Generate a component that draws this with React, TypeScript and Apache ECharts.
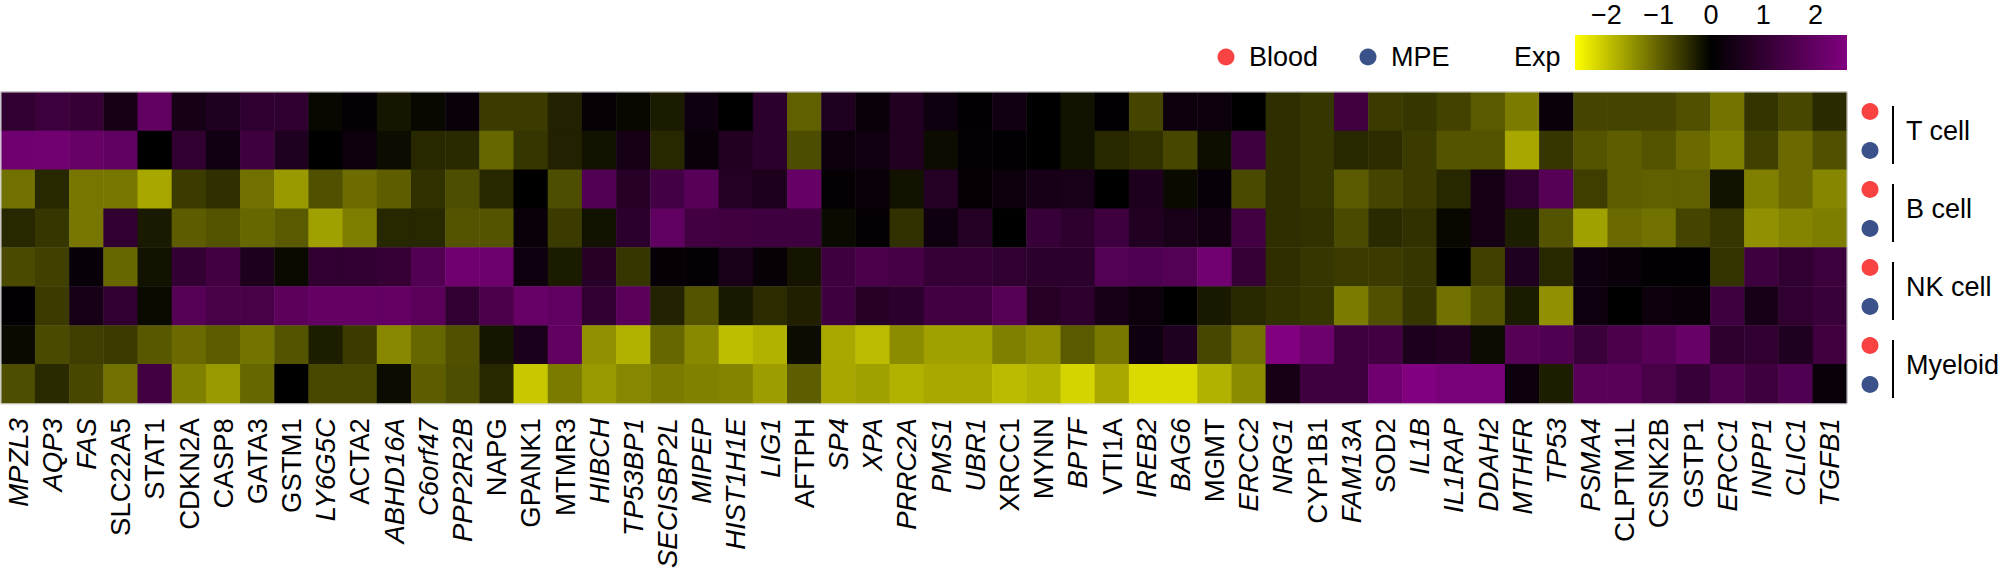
import React, { useEffect, useRef } from 'react';
import * as echarts from 'echarts';

const genes = [
  'MPZL3', 'AQP3', 'FAS', 'SLC22A5', 'STAT1', 'CDKN2A', 'CASP8', 'GATA3', 'GSTM1', 'LY6G5C',
  'ACTA2', 'ABHD16A', 'C6orf47', 'PPP2R2B', 'NAPG', 'GPANK1', 'MTMR3', 'HIBCH', 'TP53BP1', 'SECISBP2L',
  'MIPEP', 'HIST1H1E', 'LIG1', 'AFTPH', 'SP4', 'XPA', 'PRRC2A', 'PMS1', 'UBR1', 'XRCC1',
  'MYNN', 'BPTF', 'VTI1A', 'IREB2', 'BAG6', 'MGMT', 'ERCC2', 'NRG1', 'CYP1B1', 'FAM13A',
  'SOD2', 'IL1B', 'IL1RAP', 'DDAH2', 'MTHFR', 'TP53', 'PSMA4', 'CLPTM1L', 'CSNK2B', 'GSTP1',
  'ERCC1', 'INPP1', 'CLIC1', 'TGFB1',
];

const italicGenes = [
  'MPZL3', 'AQP3', 'FAS', 'LY6G5C', 'ABHD16A', 'C6orf47', 'PPP2R2B', 'HIBCH', 'TP53BP1', 'SECISBP2L',
  'MIPEP', 'HIST1H1E', 'LIG1', 'SP4', 'XPA', 'PRRC2A', 'PMS1', 'UBR1', 'BPTF', 'IREB2', 'BAG6',
  'ERCC2', 'NRG1', 'FAM13A', 'IL1B', 'IL1RAP', 'DDAH2', 'MTHFR', 'TP53', 'PSMA4', 'ERCC1', 'INPP1',
  'CLIC1', 'TGFB1',
];

const rowNames = [
  'T cell Blood', 'T cell MPE', 'B cell Blood', 'B cell MPE',
  'NK cell Blood', 'NK cell MPE', 'Myeloid Blood', 'Myeloid MPE',
];
const cellTypes = ['T cell', 'B cell', 'NK cell', 'Myeloid'];
const tissues = ['Blood', 'MPE'];

const tBlood = [0.97, 1.22, 1.1, 0.45, 2.0, 0.45, 0.65, 0.95, 0.95, -0.08, 0.1, -0.22, -0.08, 0.18, -0.6, -0.6, -0.35, 0.14, -0.08, -0.28, 0.3, 0, 0.89, -0.98, 0.65, 0.18, 0.68, 0.28, 0.05, 0.34, 0, -0.18, 0.04, -0.7, 0.24, 0.22, 0, -0.47, -0.55, 1.3, -0.6, -0.55, -0.68, -0.92, -1.25, 0.18, -0.7, -0.7, -0.7, -0.82, -1.17, -0.53, -0.72, -0.43];
const tMPE = [2.27, 2.3, 2.1, 1.95, 0, 0.97, 0.35, 1.26, 0.65, 0, 0.26, -0.12, -0.4, -0.43, -1.05, -0.55, -0.35, -0.18, 0.42, -0.4, 0.18, 0.69, 0.89, -0.78, 0.24, 0.32, 0.69, -0.12, 0.08, 0.06, 0, -0.18, -0.4, -0.5, -0.72, -0.14, 1.26, -0.47, -0.55, -0.4, -0.45, -0.6, -0.86, -0.86, -1.7, -0.55, -0.86, -0.96, -0.86, -1.08, -1.3, -0.65, -1.08, -0.82];
const bBlood = [-1.15, -0.4, -1.2, -1.2, -1.7, -0.6, -0.48, -1.15, -1.57, -0.82, -1.1, -0.96, -0.5, -0.8, -0.4, 0, -0.8, 1.67, 0.77, 1.38, 1.79, 0.73, 0.57, 2.07, 0.08, 0.18, -0.18, 0.75, 0.12, 0.26, 0.47, 0.49, 0, 0.61, -0.1, 0.16, -0.75, -0.47, -0.55, -0.92, -0.7, -0.6, -0.4, 0.42, 0.97, 1.75, -0.63, -0.96, -0.98, -0.98, -0.18, -1.3, -1.08, -1.37];
const bMPE = [-0.4, -0.55, -1.2, 0.97, -0.27, -0.95, -0.86, -1.05, -0.92, -1.63, -1.28, -0.4, -0.4, -0.86, -0.86, 0.2, -0.6, -0.18, 0.89, 1.95, 1.34, 1.3, 1.26, 1.26, -0.1, 0.08, -0.5, 0.3, 0.73, 0, 1.14, 0.93, 1.26, 0.69, 0.49, 0.37, 1.34, -0.47, -0.5, -0.75, -0.43, -0.5, -0.08, 0.44, -0.3, -0.86, -1.63, -1.08, -1.15, -0.7, -0.55, -1.47, -1.35, -1.27];
const nkBlood = [-0.75, -0.65, 0.16, -1.05, -0.18, 1.04, 1.34, 0.57, -0.1, 0.97, 0.97, 1.1, 1.67, 2.27, 2.23, 0.3, -0.28, 0.77, -0.55, 0.12, 0.1, 0.5, 0.15, -0.2, 1.26, 1.5, 1.42, 1.1, 1.1, 0.97, 0.89, 0.89, 1.7, 1.62, 1.7, 2.3, 1.1, -0.47, -0.55, -0.6, -0.6, -0.55, 0, -0.65, 0.65, -0.4, 0.28, 0.18, 0.05, 0.05, -0.53, 1.26, 0.97, 1.22];
const nkMPE = [0.07, -0.6, 0.47, 0.97, -0.1, 1.75, 1.46, 1.46, 1.87, 2.03, 2.03, 2.03, 1.83, 0.97, 1.54, 2.1, 1.95, 0.97, 1.83, -0.35, -0.86, -0.25, -0.45, -0.33, 1.26, 0.77, 0.89, 1.34, 1.34, 1.75, 0.77, 0.93, 0.46, 0.26, 0, -0.25, -0.4, -0.5, -0.55, -1.25, -0.82, -0.55, -1.15, -0.86, -0.28, -1.47, 0.3, 0, 0.24, 0.18, 1.26, 0.46, 0.97, 1.18];
const myBlood = [-0.1, -0.75, -0.63, -0.6, -0.9, -1.08, -0.95, -1.17, -0.86, -0.3, -0.6, -1.38, -1.05, -0.82, -0.22, 0.53, 2.0, -1.47, -1.8, -1.05, -1.4, -1.94, -1.8, -0.12, -1.71, -1.92, -1.43, -1.63, -1.63, -1.3, -1.45, -0.92, -1.22, 0.3, 0.65, -0.72, -1.15, 2.6, 2.2, 1.26, 1.34, 0.57, 0.69, -0.12, 1.75, 1.62, 1.18, 1.5, 1.79, 2.1, 0.93, 0.97, 0.65, 1.3];
const myMPE = [-0.8, -0.43, -0.72, -1.15, 1.34, -1.3, -1.55, -1.05, 0, -0.73, -0.73, -0.12, -0.95, -0.8, -0.4, -2.04, -1.25, -1.55, -1.38, -1.25, -1.32, -1.35, -1.6, -0.96, -1.7, -1.63, -1.8, -1.71, -1.71, -1.9, -1.8, -2.16, -1.71, -2.22, -2.22, -1.8, -1.43, 0.42, 1.26, 1.26, 2.27, 2.6, 2.44, 2.44, 0.24, -0.3, 1.8, 1.8, 1.46, 1.14, 1.58, 1.26, 1.62, 0.2];

const colorTicks = [-2, -1, 0, 1, 2];
const colorMin = -2.6;
const colorMax = 2.6;

const FONT = "'Liberation Sans', Arial, Helvetica, sans-serif";
const RED = '#F94343';
const BLUE = '#3B5189';
const LABEL_SIZE = 27.5;
const TEXT_SIZE = 27;

export default function App() {
  const ref = useRef<HTMLDivElement>(null);

  useEffect(() => {
    const chart = echarts.init(ref.current!, null, { renderer: 'svg' });
    const rows = [tBlood, tMPE, bBlood, bMPE, nkBlood, nkMPE, myBlood, myMPE];
    const data: number[][] = [];
    rows.forEach((row, y) => row.forEach((v, x) => data.push([x, y, v])));
    const italicSet = new Set(italicGenes);

    const gLeft = 1;
    const gTop = 92;
    const gWidth = 1846;
    const gHeight = 312;
    const rowH = gHeight / rowNames.length;

    const graphics: any[] = [];
    graphics.push({
      type: 'rect',
      shape: { x: gLeft, y: gTop, width: gWidth, height: gHeight },
      style: { fill: 'none', stroke: '#cfcfcf', lineWidth: 1 },
      z: 100,
    });
    rowNames.forEach((_, i) => {
      graphics.push({
        type: 'circle',
        shape: { cx: 1870, cy: gTop + rowH * (i + 0.5), r: 8.5 },
        style: { fill: i % 2 === 0 ? RED : BLUE },
      });
    });
    cellTypes.forEach((ct, k) => {
      const y0 = gTop + rowH * 2 * k;
      graphics.push({
        type: 'line',
        shape: { x1: 1893, y1: y0 + 14, x2: 1893, y2: y0 + 2 * rowH - 6 },
        style: { stroke: '#000', lineWidth: 2 },
      });
      graphics.push({
        type: 'text',
        style: {
          text: ct, x: 1906, y: y0 + rowH, fill: '#000',
          font: `${TEXT_SIZE}px ${FONT}`, align: 'left', verticalAlign: 'middle',
        },
      });
    });
    const tissueX = [1226, 1368];
    tissues.forEach((t, i) => {
      graphics.push({
        type: 'circle',
        shape: { cx: tissueX[i], cy: 57, r: 8.5 },
        style: { fill: i === 0 ? RED : BLUE },
      });
      graphics.push({
        type: 'text',
        style: {
          text: t, x: tissueX[i] + 23, y: 57, fill: '#000',
          font: `${TEXT_SIZE}px ${FONT}`, align: 'left', verticalAlign: 'middle',
        },
      });
    });
    graphics.push({
      type: 'text',
      style: {
        text: 'Exp', x: 1514, y: 57, fill: '#000',
        font: `${TEXT_SIZE}px ${FONT}`, align: 'left', verticalAlign: 'middle',
      },
    });
    const cbX = 1575;
    const cbW = 272;
    graphics.push({
      type: 'rect',
      shape: { x: cbX, y: 35, width: cbW, height: 35 },
      style: {
        fill: new echarts.graphic.LinearGradient(0, 0, 1, 0, [
          { offset: 0, color: '#ffff00' },
          { offset: (0 - colorMin) / (colorMax - colorMin), color: '#000000' },
          { offset: 1, color: '#800080' },
        ]),
      },
    });
    colorTicks.forEach((t) => {
      graphics.push({
        type: 'text',
        style: {
          text: t < 0 ? `\u2212${Math.abs(t)}` : `${t}`,
          x: cbX + ((t - colorMin) / (colorMax - colorMin)) * cbW,
          y: 15, fill: '#000',
          font: `${TEXT_SIZE}px ${FONT}`, align: 'center', verticalAlign: 'middle',
        },
      });
    });

    chart.setOption({
      animation: false,
      backgroundColor: '#ffffff',
      grid: { left: gLeft, top: gTop, width: gWidth, height: gHeight, containLabel: false },
      xAxis: {
        type: 'category',
        data: genes,
        axisLine: { show: false },
        axisTick: { show: false },
        splitArea: { show: false },
        axisLabel: {
          interval: 0,
          rotate: 90,
          margin: 15,
          color: '#000',
          fontSize: LABEL_SIZE,
          fontFamily: FONT,
          formatter: (v: string) => (italicSet.has(v) ? `{i|${v}}` : `{n|${v}}`),
          rich: {
            i: { fontStyle: 'italic', fontSize: LABEL_SIZE, fontFamily: FONT, color: '#000' },
            n: { fontStyle: 'normal', fontSize: LABEL_SIZE, fontFamily: FONT, color: '#000' },
          },
        },
      },
      yAxis: {
        type: 'category',
        data: rowNames,
        inverse: true,
        axisLine: { show: false },
        axisTick: { show: false },
        axisLabel: { show: false },
      },
      visualMap: {
        show: false,
        min: colorMin,
        max: colorMax,
        dimension: 2,
        inRange: { color: ['#ffff00', '#000000', '#800080'] },
      },
      series: [
        {
          type: 'heatmap',
          data,
          itemStyle: { borderWidth: 0 },
          emphasis: { disabled: true },
        },
      ],
      graphic: graphics,
    });

    return () => chart.dispose();
  }, []);

  return (
    <div
      ref={ref}
      style={{ position: 'fixed', left: 0, top: 0, width: 2001, height: 571, background: '#fff' }}
    />
  );
}
